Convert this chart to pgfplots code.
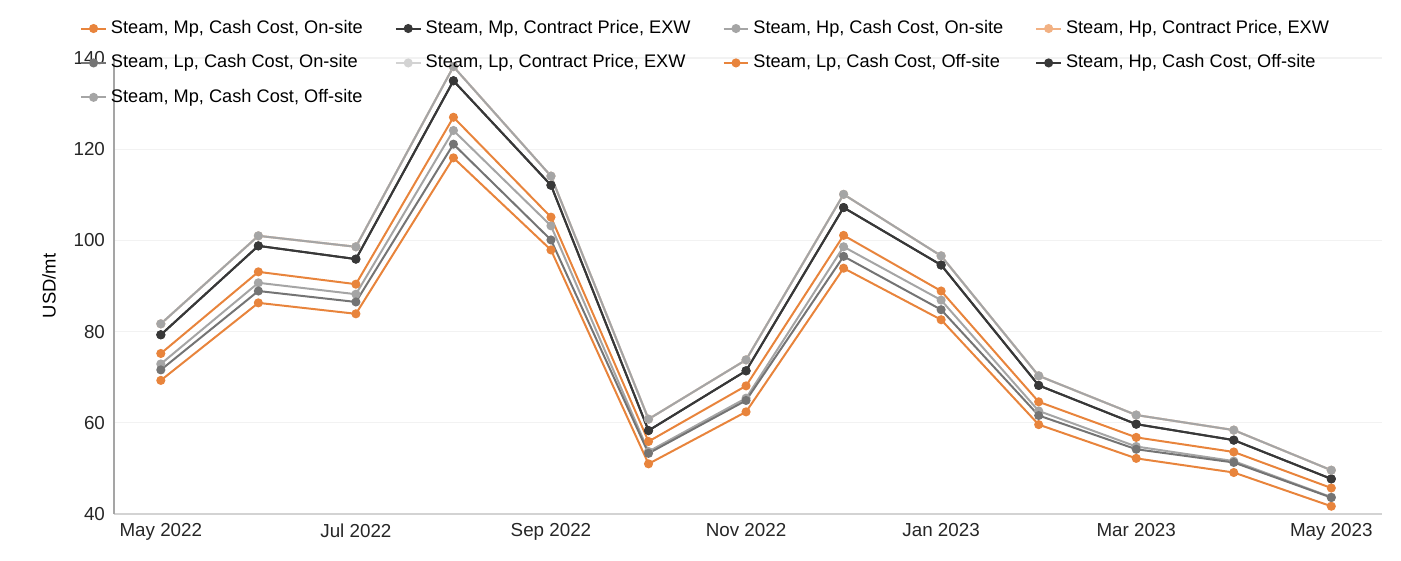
\documentclass[border=0pt]{standalone}
\usepackage{pgfplots}
\usepackage{pgfplotstable}
\pgfplotsset{compat=1.18}
\usepackage{fontspec}
\setmainfont{Liberation Sans}
\definecolor{cOr}{HTML}{E8843C}
\definecolor{cDk}{HTML}{383838}
\definecolor{cGr}{HTML}{A5A5A5}
\definecolor{cDg}{HTML}{747474}
\definecolor{cLo}{HTML}{F2B183}
\definecolor{cLg}{HTML}{D3D3D3}
\definecolor{cGrid}{HTML}{F2F2F2}
\pgfplotstableread{
x A B C D E F
0 81.7 79.3 75.2 72.9 71.6 69.3
1 101.0 98.8 93.1 90.7 88.9 86.3
2 98.6 95.9 90.4 88.2 86.5 83.9
3 138.1 135.0 127.0 124.1 121.1 118.1
4 114.1 112.1 105.1 103.2 100.1 97.9
5 60.8 58.3 55.9 53.7 53.3 51.0
6 73.8 71.4 68.1 65.4 64.9 62.4
7 110.1 107.2 101.1 98.6 96.5 93.9
8 96.6 94.6 88.9 86.9 84.8 82.6
9 70.3 68.2 64.6 62.6 61.6 59.6
10 61.7 59.7 56.8 54.8 54.2 52.2
11 58.4 56.2 53.6 51.6 51.3 49.1
12 49.6 47.7 45.7 43.7 43.6 41.7
}\data
\begin{document}
\begin{tikzpicture}
\path[use as bounding box] (0,0) rectangle (700.5pt,280.5pt);
\begin{axis}[
  at={(57pt,23.5pt)}, anchor=south west,
  scale only axis, width=634pt, height=228pt,
  xmin=-0.48, xmax=12.52, ymin=40, ymax=140,
  xtick={0,2,4,6,8,10,12},
  xticklabels={May 2022,Jul 2022,Sep 2022,Nov 2022,Jan 2023,Mar 2023,May 2023},
  ytick={40,60,80,100,120,140},
  ymajorgrids, grid style={cGrid, line width=0.6pt},
  axis x line*=bottom, axis y line*=left,
  x axis line style={draw=cLg, line width=1pt, -},
  y axis line style={draw=cGr, line width=0.6pt, -},
  major tick length=0pt,
  tick label style={font=\fontsize{9.4}{11}\selectfont, text=black!85},
  /pgf/number format/assume math mode=true,
  xticklabel style={yshift=-1.3pt},
  yticklabel style={xshift=-1pt},
  ylabel={USD/mt}, ylabel style={font=\fontsize{9.2}{11}\selectfont, yshift=2pt},
  every axis plot/.append style={line width=1pt, mark=*, mark size=1.75pt},
  legend columns=4,
  legend style={at={(-0.027,1.094)}, anchor=north west, draw=none, fill=none, inner sep=0pt,
    font=\fontsize{9.1}{11}\selectfont, column sep=0pt, row sep=4.2pt,
    nodes={text height=7pt, text depth=2pt, inner xsep=2pt},
    /tikz/every even column/.append style={column sep=14pt}},
  legend cell align=left,
  legend image code/.code={\draw[mark repeat=2,mark phase=2] plot coordinates {(0pt,0pt) (6.2pt,0pt) (12.4pt,0pt)};},
]
\addplot[color=cOr, mark options={fill=cOr}] table[x=x,y=F]{\data};
\addlegendentry{Steam, Mp, Cash Cost, On-site}
\addplot[color=cDk, mark options={fill=cDk}] table[x=x,y=B]{\data};
\addlegendentry{Steam, Mp, Contract Price, EXW}
\addplot[color=cGr, mark options={fill=cGr}] table[x=x,y=D]{\data};
\addlegendentry{Steam, Hp, Cash Cost, On-site}
\addplot[color=cLo, mark options={fill=cLo}] table[x=x,y=A]{\data};
\addlegendentry{Steam, Hp, Contract Price, EXW}
\addplot[color=cDg, mark options={fill=cDg}] table[x=x,y=E]{\data};
\addlegendentry{Steam, Lp, Cash Cost, On-site}
\addplot[color=cLg, mark options={fill=cLg}] table[x=x,y=A]{\data};
\addlegendentry{Steam, Lp, Contract Price, EXW}
\addplot[color=cOr, mark options={fill=cOr}] table[x=x,y=C]{\data};
\addlegendentry{Steam, Lp, Cash Cost, Off-site}
\addplot[color=cDk, mark options={fill=cDk}] table[x=x,y=B]{\data};
\addlegendentry{Steam, Hp, Cash Cost, Off-site}
\addplot[color=cGr, mark options={fill=cGr}] table[x=x,y=A]{\data};
\addlegendentry{Steam, Mp, Cash Cost, Off-site}
\end{axis}
\end{tikzpicture}
\end{document}
